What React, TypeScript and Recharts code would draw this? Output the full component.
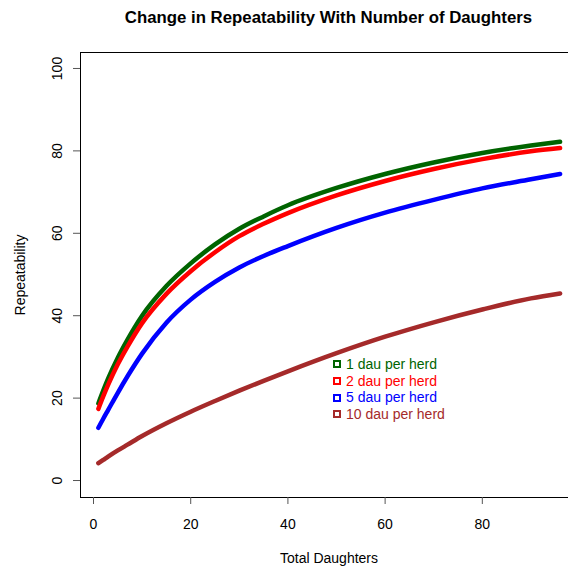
import React from 'react';
import { LineChart, Line, XAxis, YAxis, ReferenceLine } from 'recharts';

const totalDaughters = [1, 2, 3, 5, 7, 10, 15, 20, 25, 30, 35, 40, 50, 60, 70, 80, 90, 96];
const dau1 = [18.7, 21.8, 24.7, 29.8, 34.2, 40.0, 47.2, 52.7, 57.3, 61.1, 64.1, 66.8, 71.0, 74.4, 77.2, 79.5, 81.3, 82.2];
const dau2 = [17.4, 20.4, 23.2, 28.2, 32.5, 38.2, 45.3, 50.8, 55.4, 59.3, 62.3, 64.9, 69.2, 72.7, 75.6, 78.0, 79.9, 80.7];
const dau5 = [12.8, 15.0, 17.1, 21.3, 25.3, 30.8, 38.3, 43.9, 48.2, 51.7, 54.5, 56.9, 61.3, 65.0, 68.1, 70.9, 73.1, 74.4];
const dau10 = [4.2, 5.0, 5.8, 7.3, 8.7, 10.8, 13.9, 16.7, 19.3, 21.8, 24.2, 26.5, 30.9, 34.9, 38.4, 41.5, 44.2, 45.4];

const seriesNames = ['1 dau per herd', '2 dau per herd', '5 dau per herd', '10 dau per herd'];
const seriesColors = ['#006400', '#FF0000', '#0000FF', '#A52A2A'];
const seriesValues = [dau1, dau2, dau5, dau10];

const xTicks = [0, 20, 40, 60, 80];
const yTicks = [0, 20, 40, 60, 80, 100];

const data = totalDaughters.map((n, i) => {
  const row: Record<string, number> = { n };
  seriesNames.forEach((name, s) => {
    row[name] = seriesValues[s][i];
  });
  return row;
});

const FONT = '"Liberation Sans", Arial, Helvetica, sans-serif';

const XTick = (props: any) => {
  const { x, payload } = props;
  return (
    <text x={x} y={524} dy="0.36em" textAnchor="middle" fontSize={14} fontFamily={FONT} fill="#000">
      {payload.value}
    </text>
  );
};

const YTick = (props: any) => {
  const { y, payload } = props;
  const cx = 57;
  return (
    <text
      x={cx}
      y={y}
      dy="0.36em"
      textAnchor="middle"
      transform={`rotate(-90 ${cx} ${y})`}
      fontSize={14}
      fontFamily={FONT}
      fill="#000"
    >
      {payload.value}
    </text>
  );
};

export default function App() {
  return (
    <div style={{ position: 'absolute', left: 0, top: 0, width: 568, height: 568, overflow: 'hidden', background: '#fff', fontFamily: FONT }}>
      <div style={{ position: 'absolute', left: 0, top: 0 }}>
        <LineChart width={568} height={568} data={data} margin={{ top: 52, right: 0, bottom: 0, left: 0 }}>
          <XAxis
            dataKey="n"
            type="number"
            domain={[-2.78, 97.63]}
            allowDataOverflow
            ticks={xTicks}
            interval={0}
            height={71}
            axisLine={false}
            tickSize={7}
            tickLine={{ stroke: '#555', strokeWidth: 1 }}
            tick={<XTick />}
          />
          <YAxis
            type="number"
            domain={[-4, 104]}
            allowDataOverflow
            ticks={yTicks}
            interval={0}
            width={80}
            axisLine={false}
            tickSize={7}
            tickLine={{ stroke: '#555', strokeWidth: 1 }}
            tick={<YTick />}
          />
          <ReferenceLine y={104} stroke="#000" strokeWidth={1} shapeRendering="crispEdges" />
          <ReferenceLine y={-4} stroke="#000" strokeWidth={1} shapeRendering="crispEdges" />
          <ReferenceLine x={-2.78} stroke="#000" strokeWidth={1} shapeRendering="crispEdges" />
          {seriesNames.map((name, s) => (
            <Line
              key={name}
              dataKey={name}
              name={name}
              type="monotone"
              stroke={seriesColors[s]}
              strokeWidth={4.5}
              strokeLinecap="round"
              strokeLinejoin="round"
              dot={false}
              activeDot={false}
              isAnimationActive={false}
            />
          ))}
        </LineChart>
      </div>
      <div
        style={{
          position: 'absolute',
          left: 328.5,
          top: 18,
          transform: 'translate(-50%, -50%)',
          whiteSpace: 'nowrap',
          fontSize: 16.8,
          fontWeight: 'bold',
          lineHeight: 1,
        }}
      >
        Change in Repeatability With Number of Daughters
      </div>
      <div
        style={{
          position: 'absolute',
          left: 329,
          top: 558,
          transform: 'translate(-50%, -50%)',
          whiteSpace: 'nowrap',
          fontSize: 14,
          lineHeight: 1,
        }}
      >
        Total Daughters
      </div>
      <div
        style={{
          position: 'absolute',
          left: 20,
          top: 274.5,
          transform: 'translate(-50%, -50%) rotate(-90deg)',
          whiteSpace: 'nowrap',
          fontSize: 14,
          lineHeight: 1,
        }}
      >
        Repeatability
      </div>
      <div style={{ position: 'absolute', left: 333, top: 356, fontSize: 14 }}>
        {seriesNames.map((name, s) => (
          <div
            key={name}
            style={{ display: 'flex', alignItems: 'center', height: 16.7, lineHeight: '16.7px', color: seriesColors[s] }}
          >
            <span
              style={{
                display: 'inline-block',
                width: 8,
                height: 8,
                boxSizing: 'border-box',
                border: `2px solid ${seriesColors[s]}`,
                marginRight: 5,
              }}
            />
            <span style={{ whiteSpace: 'nowrap' }}>{name}</span>
          </div>
        ))}
      </div>
    </div>
  );
}
